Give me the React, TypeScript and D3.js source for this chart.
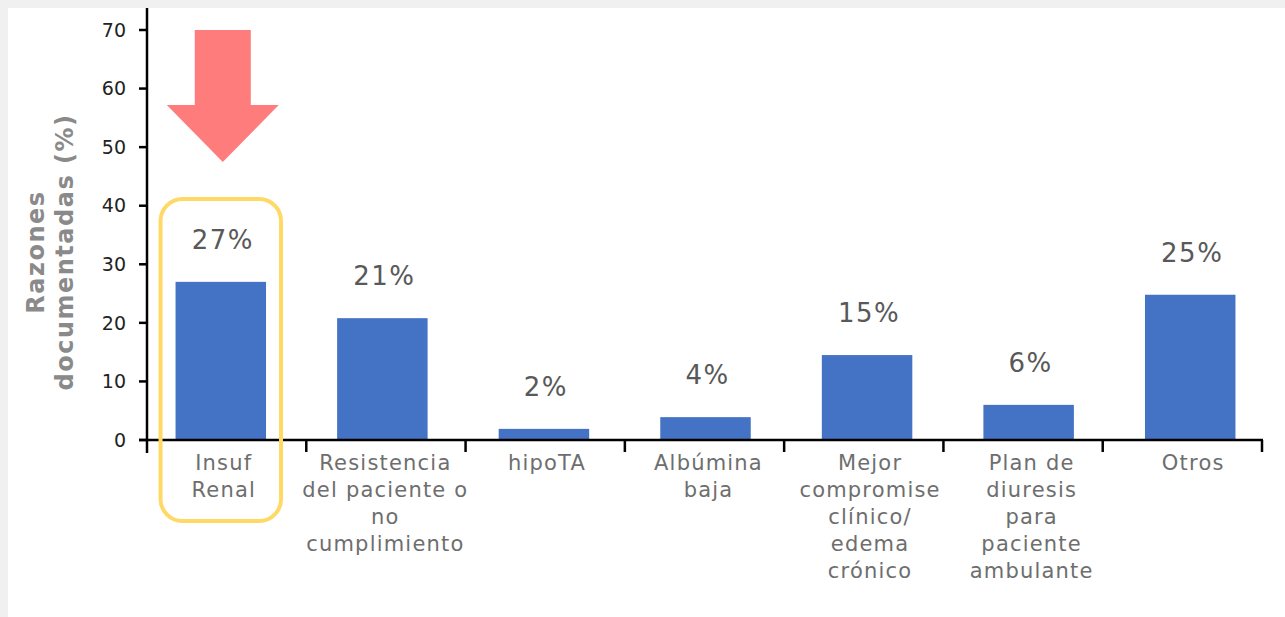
import React from "react";
import * as d3 from "d3";

const categories: string[][] = [
  ["Insuf", "Renal"],
  ["Resistencia", "del paciente o", "no", "cumplimiento"],
  ["hipoTA"],
  ["Albúmina", "baja"],
  ["Mejor", "compromise", "clínico/", "edema", "crónico"],
  ["Plan de", "diuresis", "para", "paciente", "ambulante"],
  ["Otros"],
];
const values: number[] = [27, 20.8, 1.9, 3.9, 14.5, 6.0, 24.8];
const valueLabels: string[] = ["27%", "21%", "2%", "4%", "15%", "6%", "25%"];
const yTicks: number[] = [0, 10, 20, 30, 40, 50, 60, 70];
const yTitle: string[] = ["Razones", "documentadas (%)"];

const W = 1285;
const H = 617;
const axisX = 147;
const axisRight = 1262;
const y0 = 440;
const font = "'DejaVu Sans', sans-serif";

export default function App() {
  const ids = categories.map((_, i) => String(i));
  const y = d3.scaleLinear().domain([0, 70]).range([y0, 30]);
  const xAxis = d3.scaleBand().domain(ids).range([axisX, axisRight]);
  const xBar = d3.scaleBand().domain(ids).range([140, 1271]).paddingInner(0.44).paddingOuter(0.22);

  const b0 = xBar("0")!;
  const bw = xBar.bandwidth();
  const arrowCx = b0 + bw / 2 + 2;

  return (
    <svg width={W} height={H} style={{ position: "absolute", left: 0, top: 0 }}>
      <rect x={0} y={0} width={W} height={H} fill="#f0f0f0" />
      <rect x={8} y={8} width={W - 8} height={H - 8} fill="#ffffff" />

      {/* bars */}
      {values.map((v, i) => (
        <rect key={i} x={xBar(String(i))!} y={y(v)} width={bw} height={y0 - y(v)} fill="#4472c4" />
      ))}

      {/* value labels */}
      {values.map((v, i) => (
        <text key={i} x={xBar(String(i))! + bw / 2 + 2} y={y(v) - 33} textAnchor="middle"
          fontFamily={font} fontSize={26} letterSpacing={1.5} fill="#595959">{valueLabels[i]}</text>
      ))}

      {/* axes */}
      <line x1={axisX} x2={axisX} y1={8} y2={453} stroke="#000" strokeWidth={2.5} />
      <line x1={139} x2={axisRight + 1} y1={y0} y2={y0} stroke="#000" strokeWidth={2.5} />
      {yTicks.map((t) => (
        <g key={t}>
          <line x1={139} x2={axisX} y1={y(t)} y2={y(t)} stroke="#000" strokeWidth={2.5} />
          <text x={126} y={y(t)} dy="0.35em" textAnchor="end" fontFamily={font} fontSize={19} fill="#222">{t}</text>
        </g>
      ))}
      {ids.map((id) => (
        <line key={id} x1={xAxis(id)! + xAxis.bandwidth()} x2={xAxis(id)! + xAxis.bandwidth()} y1={y0} y2={452}
          stroke="#000" strokeWidth={2.5} />
      ))}

      {/* category labels */}
      {categories.map((lines, i) => (
        <text key={i} textAnchor="middle" fontFamily={font} fontSize={21} letterSpacing={1.2} fill="#6e6e6e">
          {lines.map((l, j) => (
            <tspan key={j} x={xBar(String(i))! + bw / 2 + 3} y={470 + j * 27}>{l}</tspan>
          ))}
        </text>
      ))}

      {/* y title */}
      <text transform="translate(0,252) rotate(-90)" textAnchor="middle" fontFamily={font}
        fontWeight="bold" fontSize={24} letterSpacing={1.5} fill="#8a8a8a">
        <tspan x={0} y={44}>{yTitle[0]}</tspan>
        <tspan x={0} y={73}>{yTitle[1]}</tspan>
      </text>

      {/* highlight box */}
      <rect x={b0 - 15} y={199} width={bw + 30} height={322} rx={22} ry={22}
        fill="none" stroke="#ffd966" strokeWidth={4} />

      {/* arrow */}
      <path
        d={`M${arrowCx - 28},30 L${arrowCx + 28},30 L${arrowCx + 28},105 L${arrowCx + 56},105 L${arrowCx},162 L${arrowCx - 56},105 L${arrowCx - 28},105 Z`}
        fill="#ff7c7c" />
    </svg>
  );
}
